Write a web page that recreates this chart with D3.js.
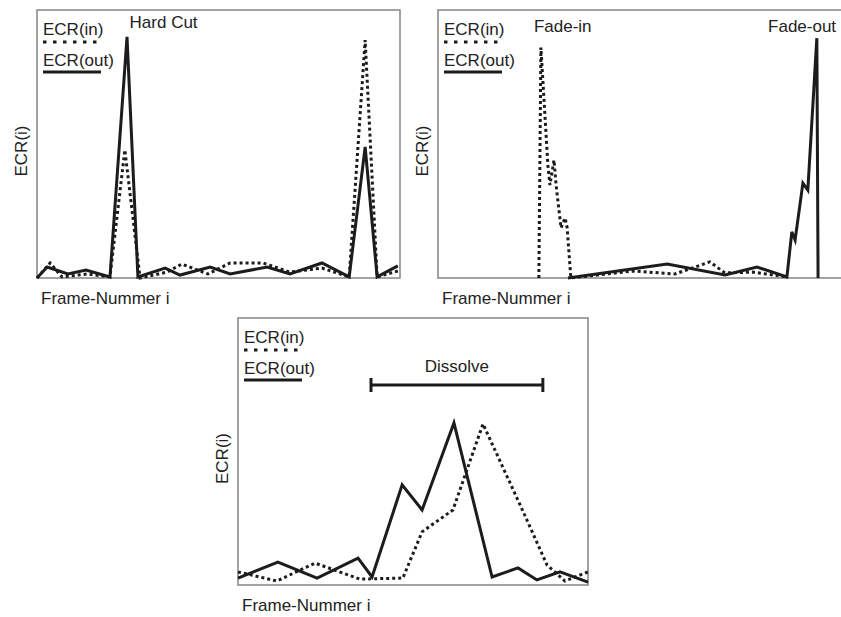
<!DOCTYPE html>
<html>
<head>
<meta charset="utf-8">
<script src="https://d3js.org/d3.v7.min.js"></script>
<style>
  body { margin: 0; background: #fff; }
  svg text { font-family: "Liberation Sans", Arial, sans-serif; fill: #222; font-size: 17px; }
  .frame { fill: none; stroke: #858585; stroke-width: 1.5px; }
  .solid { fill: none; stroke: #1c1c1c; stroke-width: 3px; stroke-linejoin: miter; }
  .dotted { fill: none; stroke: #1c1c1c; stroke-width: 3px; stroke-dasharray: 3,3; }
</style>
</head>
<body>
<div id="chart"></div>
<script>
// values: [frame position, ECR] – both on a 0..100 scale per panel
const hardCutIn = [[0,0],[3.6,5.6],[6.9,0.4],[13.8,1.5],[20.1,0.4],[24.2,47.8],[28.4,0],[35.8,2.2],[39.9,5.2],[47.1,1.5],[53.2,5.6],[62.3,5.6],[69.7,2.2],[78.5,3.7],[86,0.4],[90.4,88.8],[93.7,0.4],[99.4,2.6]]
const hardCutOut = [[0,0],[2.8,4.1],[8.5,1.5],[13.5,3],[20.1,0.4],[24.8,90],[27.8,0.4],[35.3,3.7],[39.4,1.1],[47.7,4.1],[53.2,1.5],[63.4,4.1],[69.7,1.5],[78.5,5.6],[86,0.4],[90.4,48.9],[93.7,0.4],[99.4,4.5]]

const fadeIn = [[24.6,0],[25.1,86],[26.8,42.2],[27.3,34.7],[28.3,44],[28.8,34.7],[30,18.7],[31,22.4],[31.5,18.7],[32.4,0],[47.6,2.6],[57.8,1.5],[66.3,6],[70,1.9],[76.8,2.2],[85.1,0.4]]
const fadeOut = [[31.7,0],[55.9,5.2],[70,1.1],[77.8,4.1],[85.1,0.4],[86.3,17.2],[87.1,14.2],[89,35.4],[90.2,32.8],[92.4,89.5],[92.7,0]]

const dissolveIn = [[0,4.9],[11.1,1.5],[22,8.2],[34.9,2.2],[47.1,2.6],[52.6,19.9],[61.4,28.1],[70,60.3],[80.6,30],[88.3,7.5],[93.4,1.5],[100,4.9]]
const dissolveOut = [[0,2.6],[11.4,8.6],[22.6,2.6],[34.3,10.1],[38.3,3],[46.9,37.5],[52.6,28.1],[61.7,60.7],[72.6,3],[80,6.4],[85.4,1.9],[92,4.9],[100,1.1]]
const dissolveRange = [38, 87.1]

const legendLabels = ["ECR(in)", "ECR(out)"]
const xLabel = "Frame-Nummer i"
const yLabel = "ECR(i)"

const panels = [
  {x: 37, y: 10, w: 363, h: 268, ins: hardCutIn, outs: hardCutOut,
   notes: [{text: "Hard Cut", at: 25.5, dy: 18, anchor: "start"}]},
  {x: 438, y: 10, w: 410, h: 268, ins: fadeIn, outs: fadeOut,
   notes: [{text: "Fade-in", at: 23.4, dy: 22, anchor: "start"}, {text: "Fade-out", at: 80.5, dy: 22, anchor: "start"}]},
  {x: 238, y: 318, w: 350, h: 267, ins: dissolveIn, outs: dissolveOut, notes: [], range: dissolveRange}
]

const svg = d3.select("#chart").append("svg")
  .attr("width", 841)
  .attr("height", 617)

panels.forEach(p => {
  const x = d3.scaleLinear().domain([0, 100]).range([0, p.w])
  const y = d3.scaleLinear().domain([0, 100]).range([p.h, 0])
  const line = d3.line().x(d => x(d[0])).y(d => y(d[1]))

  const g = svg.append("g").attr("transform", `translate(${p.x},${p.y})`)

  g.append("rect").attr("class", "frame")
    .attr("width", p.w).attr("height", p.h)

  g.append("path").datum(p.ins).attr("class", "dotted").attr("d", line)
  g.append("path").datum(p.outs).attr("class", "solid").attr("d", line)

  // legend
  g.append("text").attr("x", 6).attr("y", 25).text(legendLabels[0])
  g.append("line").attr("class", "dotted")
    .attr("x1", 6).attr("x2", 63).attr("y1", 32).attr("y2", 32)
    .style("stroke-dasharray", "3.5,6.5")
  g.append("text").attr("x", 6).attr("y", 56).text(legendLabels[1])
  g.append("line").attr("class", "solid")
    .attr("x1", 6).attr("x2", 64).attr("y1", 62).attr("y2", 62)

  p.notes.forEach(n => {
    g.append("text").attr("x", x(n.at)).attr("y", n.dy)
      .attr("text-anchor", n.anchor).text(n.text)
  })

  if (p.range) {
    const by = 67
    const br = g.append("g").style("stroke", "#1c1c1c").style("stroke-width", "3px")
    br.append("line").attr("x1", x(p.range[0])).attr("x2", x(p.range[1])).attr("y1", by).attr("y2", by)
    br.append("line").attr("x1", x(p.range[0])).attr("x2", x(p.range[0])).attr("y1", by - 7).attr("y2", by + 7)
    br.append("line").attr("x1", x(p.range[1])).attr("x2", x(p.range[1])).attr("y1", by - 7).attr("y2", by + 7)
    g.append("text").attr("x", x(d3.mean(p.range))).attr("y", 54)
      .attr("text-anchor", "middle").text("Dissolve")
  }

  // axis labels
  g.append("text").attr("x", 4).attr("y", p.h + 26).text(xLabel)
  g.append("text")
    .attr("transform", `translate(-10,${p.h / 2 + 7}) rotate(-90)`)
    .attr("text-anchor", "middle").text(yLabel)
})
</script>
</body>
</html>
